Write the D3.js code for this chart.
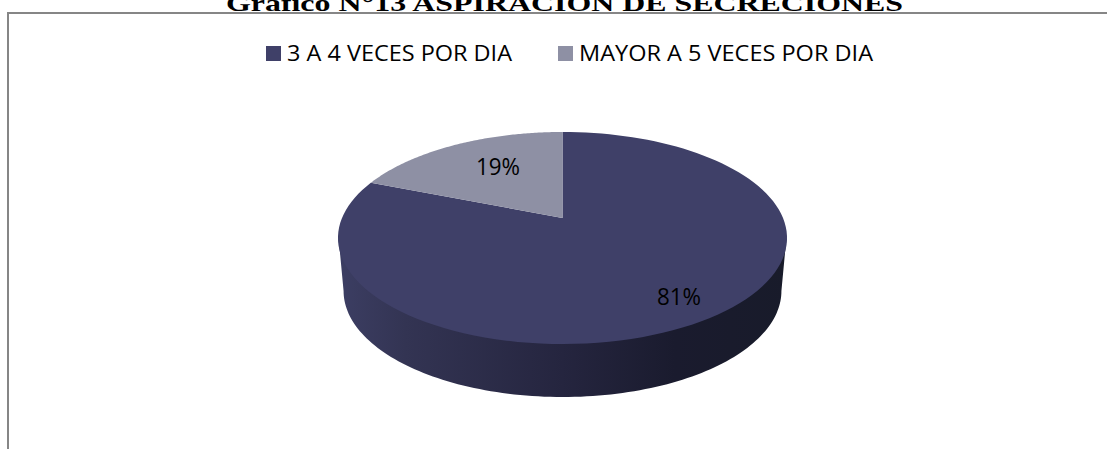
<!DOCTYPE html>
<html>
<head>
<meta charset="utf-8">
<script src="https://cdn.jsdelivr.net/npm/d3@7"></script>
<style>
  body { margin: 0; background: #fff; overflow: hidden; }
  svg { display: block; }
</style>
</head>
<body>
<div id="chart"></div>
<script>
'use strict'

// Data
const categories = ['3 A 4 VECES POR DIA', 'MAYOR A 5 VECES POR DIA']
const values = [81, 19]
const title_text = 'Gráfico N°13 ASPIRACIÓN DE SECRECIONES'

const W = 1107, H = 449
const colors = ['#3f4068', '#8e90a4']

const svg = d3.select('#chart').append('svg')
  .attr('width', W)
  .attr('height', H)

// Frame, open on the right and bottom
svg.append('path')
  .attr('d', 'M8,' + H + 'V13H' + W)
  .attr('fill', 'none')
  .attr('stroke', '#868686')
  .attr('stroke-width', 2)

// Title, cut off by the top of the picture
svg.append('text')
  .attr('x', 226)
  .attr('y', 11)
  .attr('textLength', 677)
  .attr('lengthAdjust', 'spacingAndGlyphs')
  .style('font', 'bold 23px "Liberation Serif"')
  .attr('fill', '#000')
  .text(title_text)

// Legend
const legend_x = [266, 558]
const legend_w = [225, 294]
const legend = svg.selectAll('g.legend')
  .data(categories)
  .enter().append('g')
  .attr('class', 'legend')
  .attr('transform', function(d, i) { return 'translate(' + legend_x[i] + ',46)' })
legend.append('rect')
  .attr('width', 15)
  .attr('height', 15)
  .attr('fill', function(d, i) { return colors[i] })
legend.append('text')
  .attr('x', 21)
  .attr('y', 15)
  .attr('textLength', function(d, i) { return legend_w[i] })
  .attr('lengthAdjust', 'spacingAndGlyphs')
  .style('font', '22px "Open Sans"')
  .attr('fill', '#000')
  .text(function(d) { return d })

// Pie in perspective: unit circle (u,v), v=1 is the far edge
const cx = 562.5
const persp = 0.1887
const scale_y = d3.scaleLinear().domain([0, 1]).range([218, 156.9])  // numerator of the projection
const scale_x = d3.scaleLinear().domain([-1, 1]).range([-220.5, 220.5])

function project( u, v, drop, shrink) {
  const den = 1 + persp * v
  return [cx + shrink * scale_x(u) / den, drop + scale_y(v) / den]
} // project()

function on_circle( a, drop, shrink) {
  return project( Math.sin(a), Math.cos(a), drop, shrink)
} // on_circle()

const line = d3.line()

// Sample an arc between two angles
function arc_points( a0, a1, drop, shrink) {
  return d3.range(0, 121).map( function(i) {
    return on_circle( a0 + (a1 - a0) * i / 120, drop, shrink)
  })
} // arc_points()

// Side wall, shaded from left to right
const defs = svg.append('defs')
const grad = defs.append('linearGradient')
  .attr('id', 'wall')
  .attr('gradientUnits', 'userSpaceOnUse')
  .attr('x1', 338).attr('x2', 787).attr('y1', 0).attr('y2', 0)
const stops = [[0, '#3c3e63'], [0.15, '#333453'], [0.5, '#25253f'], [0.75, '#1a1b2e'], [1, '#181b2a']]
grad.selectAll('stop')
  .data(stops)
  .enter().append('stop')
  .attr('offset', function(d) { return d[0] })
  .attr('stop-color', function(d) { return d[1] })

// angle where the projected ellipse is widest
const a_side = Math.PI / 2 + Math.asin(persp)
const wall_top = arc_points( a_side, 2 * Math.PI - a_side, -2, 0.998)
const wall_bottom = arc_points( 2 * Math.PI - a_side, a_side, 53, 0.975)
svg.append('path')
  .attr('d', line( wall_top.concat( wall_bottom)) + 'Z')
  .attr('fill', 'url(#wall)')

// Top face
const pie = d3.pie().sort(null)
const slices = pie( values)
const apex = project( 0, 0, 0, 1)
svg.selectAll('path.slice')
  .data(slices)
  .enter().append('path')
  .attr('class', 'slice')
  .attr('d', function(d) {
    return line( [apex].concat( arc_points( d.startAngle, d.endAngle, 0, 1))) + 'Z'
  })
  .attr('fill', function(d, i) { return colors[i] })

// Percentage labels
const label_pos = [[657, 305], [476, 175]]
svg.selectAll('text.pct')
  .data(values)
  .enter().append('text')
  .attr('class', 'pct')
  .attr('x', function(d, i) { return label_pos[i][0] })
  .attr('y', function(d, i) { return label_pos[i][1] })
  .attr('textLength', 44)
  .attr('lengthAdjust', 'spacingAndGlyphs')
  .style('font', '24px "Open Sans"')
  .attr('fill', '#000')
  .text(function(d) { return d + '%' })
</script>
</body>
</html>
